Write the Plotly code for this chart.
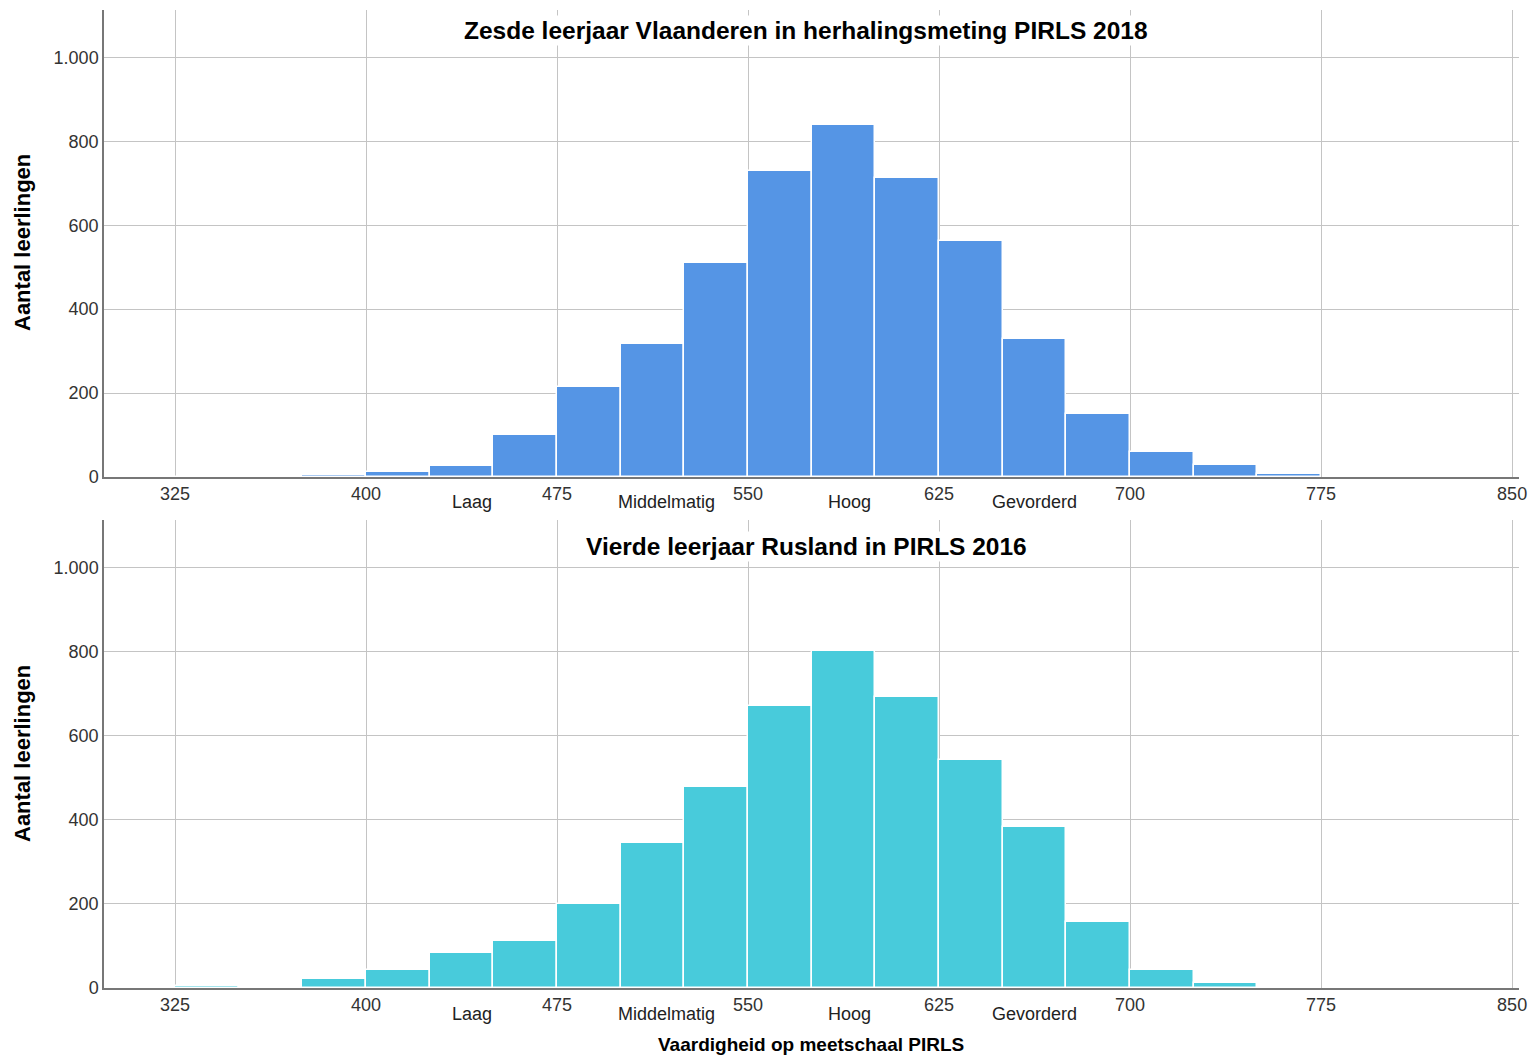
import plotly.graph_objects as go

# Data
bin_starts = [325, 350, 375, 400, 425, 450, 475, 500, 525, 550, 575, 600, 625, 650, 675, 700, 725, 750]
vlaanderen = [0, 1, 5, 13, 27, 100, 214, 317, 510, 729, 840, 713, 562, 329, 150, 60, 29, 7]
rusland = [5, 3, 21, 42, 84, 111, 200, 346, 479, 670, 801, 691, 542, 384, 156, 44, 13, 1]
bin_width = 25

title_top = "Zesde leerjaar Vlaanderen in herhalingsmeting PIRLS 2018"
title_bottom = "Vierde leerjaar Rusland in PIRLS 2016"
x_ticks = [325, 400, 475, 550, 625, 700, 775, 850]
y_ticks = [0, 200, 400, 600, 800, 1000]
y_ticktext = ["0", "200", "400", "600", "800", "1.000"]
levels = ["Laag", "Middelmatig", "Hoog", "Gevorderd"]
level_pos = [441.5, 518, 590, 662.5]

centers = [b + bin_width / 2 for b in bin_starts]

W, H = 1534, 1056
FONT = "Arial, Liberation Sans, sans-serif"

fig = go.Figure()
fig.add_trace(go.Bar(x=centers, y=vlaanderen, width=bin_width, xaxis="x", yaxis="y",
                     marker=dict(color="#5595E5", line=dict(color="white", width=1.5)),
                     showlegend=False))
fig.add_trace(go.Bar(x=centers, y=rusland, width=bin_width, xaxis="x2", yaxis="y2",
                     marker=dict(color="#48CBDB", line=dict(color="white", width=1.5)),
                     showlegend=False))

xdom = [104 / W, 1519 / W]
top_dom = [(H - 477) / H, (H - 10) / H]
bot_dom = [(H - 988) / H, (H - 520) / H]
xr = [297.1, 852.7]
yr = [0, 1113]

xcommon = dict(range=xr, domain=xdom, tickvals=x_ticks, ticktext=[str(v) for v in x_ticks],
               showgrid=True, gridcolor="#c4c4c4", gridwidth=1, zeroline=False, automargin=False,
               showline=True, linecolor="#777777", linewidth=1.5, ticks="", ticklen=0,
               tickfont=dict(family=FONT, size=18, color="#333333"))
ycommon = dict(range=yr, tickvals=y_ticks, ticktext=y_ticktext, automargin=False,
               showgrid=True, gridcolor="#c4c4c4", gridwidth=1, zeroline=False,
               showline=True, linecolor="#777777", linewidth=1.5, ticks="",
               tickfont=dict(family=FONT, size=18, color="#333333"))

fig.update_layout(
    width=W, height=H,
    margin=dict(l=0, r=0, t=0, b=0),
    paper_bgcolor="white", plot_bgcolor="white",
    bargap=0,
    xaxis=dict(**xcommon, anchor="y"),
    yaxis=dict(**ycommon, domain=top_dom, anchor="x"),
    xaxis2=dict(**xcommon, anchor="y2"),
    yaxis2=dict(**ycommon, domain=bot_dom, anchor="x2"),
)

ann = []
for t, ypx in [(title_top, 30), (title_bottom, 546)]:
    ann.append(dict(text="<b>%s</b>" % t, x=806 / W, y=1 - ypx / H, xref="paper", yref="paper",
                    showarrow=False, xanchor="center", yanchor="middle", bgcolor="white",
                    font=dict(family=FONT, size=24.5, color="black")))
for ypx in [243, 754]:
    ann.append(dict(text="<b>Aantal leerlingen</b>", x=22 / W, y=1 - ypx / H, xref="paper", yref="paper",
                    showarrow=False, textangle=-90, xanchor="center", yanchor="middle",
                    font=dict(family=FONT, size=22, color="black")))
for xa, ypx in [("x", 502), ("x2", 1014)]:
    for lab, pos in zip(levels, level_pos):
        ann.append(dict(text=lab, x=pos, y=1 - ypx / H, xref=xa, yref="paper", showarrow=False,
                        xanchor="center", yanchor="middle",
                        font=dict(family=FONT, size=18, color="#222222")))
ann.append(dict(text="<b>Vaardigheid op meetschaal PIRLS</b>", x=811 / W, y=1 - 1044 / H,
                xref="paper", yref="paper", showarrow=False, xanchor="center", yanchor="middle",
                font=dict(family=FONT, size=19, color="black")))
fig.update_layout(annotations=ann)

fig.write_html("out.html", config={"displayModeBar": False},
               post_script="document.body.style.margin='0';document.body.style.overflow='hidden';")
